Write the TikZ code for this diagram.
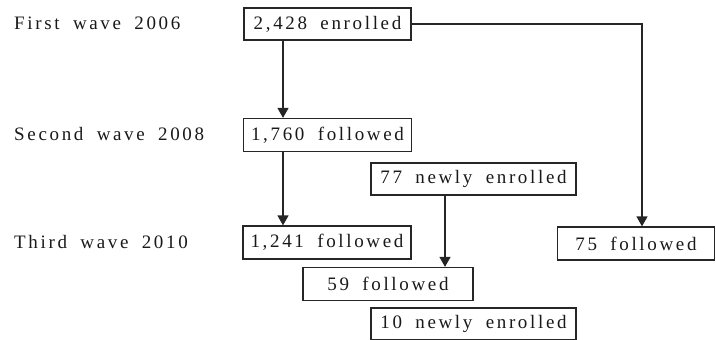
\documentclass[tikz,border=0pt]{standalone}
\usepackage{fontspec}
\setmainfont{Liberation Serif}[LetterSpace=14,WordSpace=1.8]
\usetikzlibrary{arrows.meta}
\begin{document}
\begin{tikzpicture}[x=1pt,y=-1pt,
  every node/.style={font=\fontsize{19}{21}\selectfont, text=black!90},
  plainbox/.style={draw=black!85, line width=1.2pt, fill=white, minimum height=33pt, inner sep=0pt, anchor=center},
  heavybox/.style={draw=black!85, line width=2.8pt, fill=white, minimum height=32pt, inner sep=0pt, anchor=center},
  lbl/.style={anchor=west, inner sep=0pt},
  conn/.style={draw=black!85, line width=1.2pt},
  arr/.style={conn, -{Triangle[length=10pt,width=11pt]}}
]
\useasboundingbox (0,0) rectangle (716,340);
% wave labels
\node[lbl] (w1) at (14,23) {First wave 2006};
\node[lbl] (w2) at (14,134) {Second wave 2008};
\node[lbl] (w3) at (14,242) {Third wave 2010};
% boxes
\node[heavybox, minimum width=167pt] (e1) at (327.5,24) {2,428 enrolled};
\node[plainbox, minimum width=168pt] (f2) at (327.5,135) {1,760 followed};
\node[heavybox, minimum width=205pt] (n77) at (473.5,179) {77 newly enrolled};
\node[plainbox, minimum width=168pt] (f3) at (327,242.5) {1,241 followed};
\node[plainbox, minimum width=170pt] (f59) at (388,284) {59 followed};
\node[plainbox, minimum width=157pt] (f75) at (636,243.5) {75 followed};
\node[heavybox, minimum width=205pt] (n10) at (473.5,324) {10 newly enrolled};
% connectors
\coordinate (c1) at (283,0);
\coordinate (c2) at (445,0);
\coordinate (c3) at (642,0);
\draw[arr] (e1.south -| c1) -- (f2.north -| c1);
\draw[arr] (f2.south -| c1) -- (f3.north -| c1);
\draw[arr] (n77.south -| c2) -- (f59.north -| c2);
\draw[arr] (e1.east) -| (f75.north -| c3);
\end{tikzpicture}
\end{document}
